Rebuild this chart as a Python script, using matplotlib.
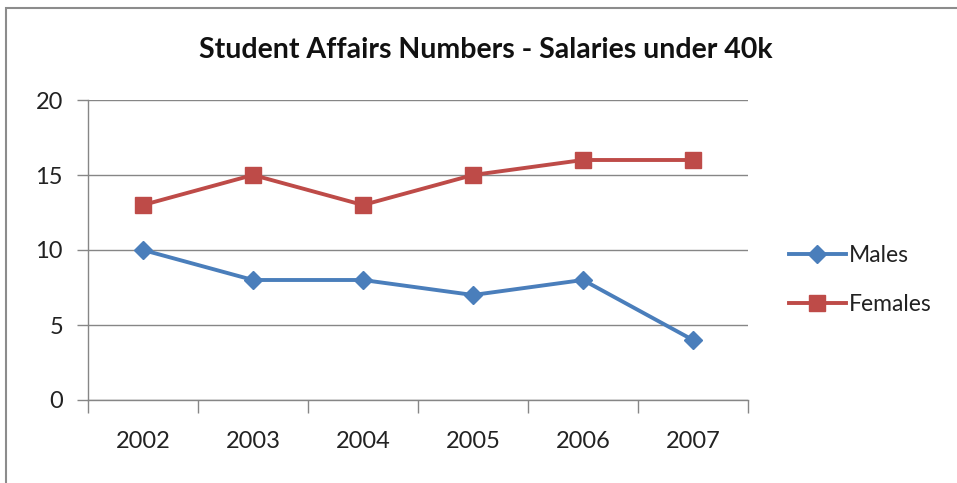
import matplotlib.pyplot as plt
from matplotlib.patches import Rectangle
from matplotlib.lines import Line2D

years = ["2002", "2003", "2004", "2005", "2006", "2007"]
males = [10, 8, 8, 7, 8, 4]
females = [13, 15, 13, 15, 16, 16]

plt.rcParams["font.family"] = ["Lato", "DejaVu Sans"]

W, H = 957, 483
fig = plt.figure(figsize=(W / 100, H / 100), dpi=100)

# outer chart border (Excel style)
fig.patches.append(Rectangle((6 / W, -0.05), 1.2, (H - 8) / H + 0.05, transform=fig.transFigure,
                             fill=False, edgecolor="#8c8c8c", linewidth=1.5))

ax = fig.add_axes([88 / W, (H - 400) / H, 660 / W, 300 / H])
x = list(range(len(years)))

ax.plot(x, males, color="#4A7EBB", linewidth=2.8, marker="D", markersize=9,
        label="Males", solid_capstyle="round")
ax.plot(x, females, color="#BE4B48", linewidth=2.8, marker="s", markersize=11,
        label="Females", solid_capstyle="round")

ax.set_xlim(-0.5, len(years) - 0.5)
ax.set_ylim(0, 20)
ax.set_yticks([0, 5, 10, 15, 20])
ax.set_xticks(x)
ax.set_xticklabels(years)
ax.set_xticks([i - 0.5 for i in range(len(years) + 1)], minor=True)
ax.tick_params(axis="x", which="major", length=0, pad=22, labelsize=17, colors="#222222")
ax.tick_params(axis="x", which="minor", length=9, color="#868686", width=1)
ax.tick_params(axis="y", length=8, width=1, labelsize=17, pad=10,
               colors="#868686", labelcolor="#222222")

ax.grid(axis="y", color="#868686", linewidth=1)
ax.set_axisbelow(True)
for s in ["top", "right"]:
    ax.spines[s].set_visible(False)
for s in ["left", "bottom"]:
    ax.spines[s].set_color("#868686")
    ax.spines[s].set_linewidth(1)

fig.text(486 / W, 1 - 50 / H, "Student Affairs Numbers - Salaries under 40k",
         ha="center", va="center", fontsize=20.5, fontweight="bold", color="#111111")

handles = [Line2D([], [], color="#4A7EBB", linewidth=2.8, marker="D", markersize=9),
           Line2D([], [], color="#BE4B48", linewidth=2.8, marker="s", markersize=11)]
fig.legend(handles, ["Males", "Females"], loc="center left",
           bbox_to_anchor=(768 / W, 1 - 280 / H), frameon=False, fontsize=16.5,
           handlelength=2.5, handletextpad=0.15, labelspacing=1.2, labelcolor="#222222")

fig.savefig("out.png", dpi=100)
